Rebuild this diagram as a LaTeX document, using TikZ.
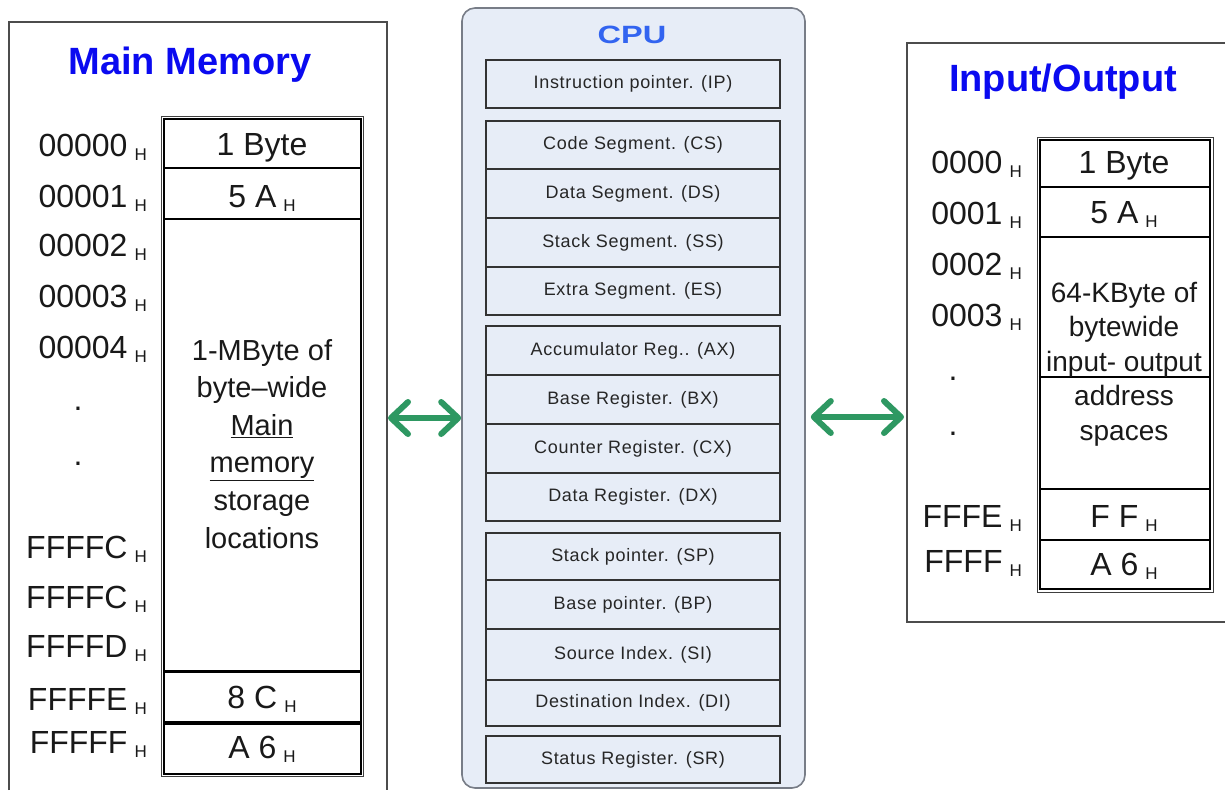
\documentclass[tikz,border=0pt]{standalone}
\usepackage{fontspec}
\setmainfont{Liberation Sans}
\usetikzlibrary{arrows.meta}
\definecolor{cpufill}{RGB}{231,237,247}
\definecolor{cpuedge}{RGB}{120,125,135}
\definecolor{titleblue}{RGB}{10,10,240}
\definecolor{cpublue}{RGB}{50,100,240}
\definecolor{arrowgreen}{RGB}{46,152,98}
\definecolor{txt}{RGB}{25,25,25}
\newcommand\Hsub{\hspace{7pt}{\fontsize{17}{17}\selectfont\raisebox{-4pt}{H}}}
\newcommand\bigf{\fontsize{32}{38}\selectfont}
\tikzset{
  ttl/.style={font=\fontsize{38}{40}\selectfont\bfseries, text=titleblue, inner sep=0pt},
  addr/.style={anchor=base east, font=\bigf, text=txt, inner sep=0pt},
  ctext/.style={anchor=base, font=\bigf, text=txt, inner sep=0pt},
  celltxt/.style={anchor=base, text=txt, inner sep=0pt},
  cellbox/.style={draw=black, line width=2.2pt, inner sep=0pt},
  outerbox/.style={draw=black!75, line width=1pt},
  panel/.style={draw=black!70, line width=1.6pt},
  reg/.style={draw=black!80, fill=cpufill, line width=1.3pt, minimum width=294pt, inner sep=0pt,
     font=\fontsize{18}{18}\selectfont\addfontfeature{LetterSpace=4}, text=black!85},
  garrow/.style={draw=arrowgreen, line width=6pt, line cap=round,
     {Straight Barb[length=17pt,width=32pt,line width=6pt,round]}-{Straight Barb[length=17pt,width=32pt,line width=6pt,round]}}
}
\begin{document}
\begin{tikzpicture}[x=1pt,y=-1pt]
\useasboundingbox (0,0) rectangle (1225,790);

% ---------- Main Memory panel ----------
\draw[panel] (9,790) -- (9,22) -- (387,22) -- (387,790);
\node[ttl] (mmtitle) at (190,65) {Main Memory};

\draw[outerbox] (161,116) rectangle (363,776);
\node[cellbox, minimum width=197pt, minimum height=49pt] (m1) at (262.5,143.5) {};
\node[cellbox, minimum width=197pt, minimum height=51pt] (m2) at (262.5,193.5) {};
\node[cellbox, minimum width=197pt, minimum height=452pt] (m3) at (262.5,445) {};
\node[cellbox, minimum width=197pt, minimum height=50pt] (m4) at (262.5,697) {};
\node[cellbox, minimum width=197pt, minimum height=50pt] (m5) at (262.5,749) {};

\node[ctext] at (262,155) {1 Byte};
\node[ctext] at (262,207) {5 A\Hsub};
\node[ctext] at (262,708) {8 C\Hsub};
\node[ctext] at (262,758) {A 6\Hsub};
\node[celltxt, font=\fontsize{29}{37.6}\selectfont, align=center, anchor=base] (mmtext) at (262,548)
  {1-MByte of\\byte--wide\\\underline{Main}\\\underline{memory}\\storage\\locations};

\node[addr] at (147,156) {00000\Hsub};
\node[addr] at (147,207) {00001\Hsub};
\node[addr] at (147,256) {00002\Hsub};
\node[addr] at (147,307) {00003\Hsub};
\node[addr] at (147,358) {00004\Hsub};
\node[ctext] at (78,410) {.};
\node[ctext] at (78,465) {.};
\node[addr] at (147,558) {FFFFC\Hsub};
\node[addr] at (147,608) {FFFFC\Hsub};
\node[addr] at (147,657) {FFFFD\Hsub};
\node[addr] at (147,710) {FFFFE\Hsub};
\node[addr] at (147,753) {FFFFF\Hsub};

% ---------- CPU ----------
\node[draw=cpuedge, fill=cpufill, line width=1.6pt, rounded corners=13pt,
      minimum width=343pt, minimum height=780pt, inner sep=0pt] (cpu) at (633.5,398) {};
\node[font=\fontsize{25}{25}\selectfont\bfseries, text=cpublue, inner sep=0pt] (cputitle) at (632,35) {\scalebox{1.3}[1]{CPU}};

\node[reg, minimum height=48pt] (ip) at (633,84) {Instruction pointer. (IP)};

\node[reg, minimum height=48pt] (cs) at (633,145) {Code Segment. (CS)};
\node[reg, minimum height=49pt] (ds) at (633,193.5) {Data Segment. (DS)};
\node[reg, minimum height=49pt] (ss) at (633,242.5) {Stack Segment. (SS)};
\node[reg, minimum height=48pt] (es) at (633,291) {Extra Segment. (ES)};

\node[reg, minimum height=49pt] (ax) at (633,350.5) {Accumulator Reg.. (AX)};
\node[reg, minimum height=49pt] (bx) at (633,399.5) {Base Register. (BX)};
\node[reg, minimum height=49pt] (cx) at (633,448.5) {Counter Register. (CX)};
\node[reg, minimum height=48pt] (dx) at (633,497) {Data Register. (DX)};

\node[reg, minimum height=47pt] (sp) at (633,556.5) {Stack pointer. (SP)};
\node[reg, minimum height=49pt] (bp) at (633,604.5) {Base pointer. (BP)};
\node[reg, minimum height=51pt] (si) at (633,654.5) {Source Index. (SI)};
\node[reg, minimum height=46pt] (di) at (633,703) {Destination Index. (DI)};

\node[reg, minimum height=47pt] (sr) at (633,759.5) {Status Register. (SR)};

% ---------- Input/Output panel ----------
\draw[panel] (1225,43) -- (907,43) -- (907,622) -- (1225,622);
\node[ttl] (iotitle) at (1063,82) {Input/Output};

\draw[outerbox] (1037,137) rectangle (1213,592);
\node[cellbox, minimum width=170pt, minimum height=47pt] (o1) at (1125,163.5) {};
\node[cellbox, minimum width=170pt, minimum height=50pt] (o2) at (1125,212) {};
\node[cellbox, minimum width=170pt, minimum height=252pt] (o3) at (1125,363) {};
\node[cellbox, minimum width=170pt, minimum height=51pt] (o4) at (1125,514.5) {};
\node[cellbox, minimum width=170pt, minimum height=49pt] (o5) at (1125,564.5) {};
\draw[line width=1.6pt] (o3.west |- 0,377) -- (o3.east |- 0,377);

\node[ctext] at (1124,173) {1 Byte};
\node[ctext] at (1124,223) {5 A\Hsub};
\node[ctext] at (1124,527) {F F\Hsub};
\node[ctext] at (1124,575) {A 6\Hsub};
\node[celltxt, font=\fontsize{28}{34.5}\selectfont, align=center, anchor=base] (iotext) at (1124,440)
  {64-KByte of\\bytewide\\input- output\\address\\spaces};

\node[addr] at (1022,173) {0000\Hsub};
\node[addr] at (1022,224) {0001\Hsub};
\node[addr] at (1022,275) {0002\Hsub};
\node[addr] at (1022,326) {0003\Hsub};
\node[ctext] at (953,380) {.};
\node[ctext] at (953,435) {.};
\node[addr] at (1022,527) {FFFE\Hsub};
\node[addr] at (1022,572) {FFFF\Hsub};

% ---------- connectors ----------
\coordinate (mmR) at (388,418);
\coordinate (ioL) at (904,417);
\draw[garrow] (mmR) -- (mmR -| cpu.west);
\draw[garrow] (ioL -| cpu.east) ++(5,0) -- (ioL);
\end{tikzpicture}
\end{document}
